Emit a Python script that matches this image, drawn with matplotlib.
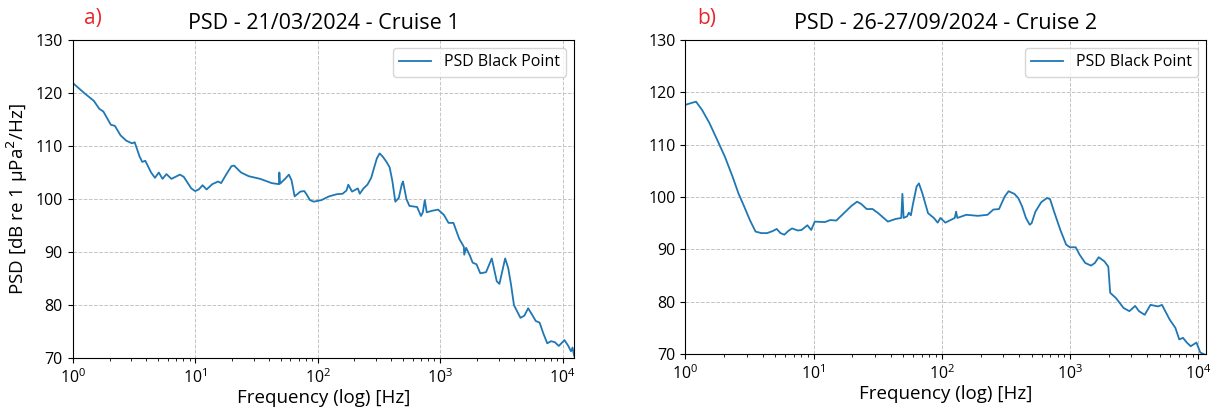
import matplotlib
matplotlib.use('Agg')
import matplotlib.pyplot as plt

plt.rcParams['font.family'] = ['Open Sans', 'DejaVu Sans']

# Cruise 1 - 21/03/2024
freq_1 = [1.0, 1.24, 1.49, 1.65, 1.78, 2.05, 2.21, 2.46, 2.74, 3.05, 3.21, 3.52, 3.70, 3.92,
          4.37, 4.70, 5.05, 5.42, 5.83, 6.40, 7.50, 8.06, 9.30, 10.0, 10.7, 11.5, 12.4, 13.8,
          15.4, 16.3, 17.8, 19.8, 20.8, 23.7, 27.4, 34.0, 42.2, 48.3, 48.7, 49.4, 54.2, 58.3,
          61.3, 64.9, 72.3, 77.8, 80.6, 86.6, 93.0, 107.5, 124, 143, 160, 172, 178, 191, 213,
          221, 237, 255, 274, 290, 305, 321, 340, 365, 387, 407, 431, 460, 487, 498, 531, 562,
          649, 698, 723, 750, 778, 866, 964, 1075, 1172, 1285, 1433, 1563, 1574, 1631, 1753,
          1845, 1982, 2129, 2371, 2642, 2901, 3051, 3398, 3598, 3787, 4010, 4217, 4530, 4870,
          5234, 5703, 6043, 6494, 6980, 7499, 8059, 8660, 9306, 10370, 11140, 11720, 12050, 12410]
psd_1 = [121.9, 120.0, 118.5, 117.0, 116.5, 114.0, 113.8, 112.0, 111.0, 110.5, 110.7, 108.0,
         107.0, 107.2, 105.0, 104.0, 105.0, 103.8, 104.7, 103.8, 104.6, 104.2, 102.0, 101.5,
         101.8, 102.6, 101.8, 102.8, 103.3, 103.0, 104.5, 106.2, 106.3, 105.0, 104.3, 103.8,
         103.0, 102.8, 105.0, 102.9, 103.8, 104.6, 103.5, 100.5, 101.4, 101.5, 101.0, 99.8,
         99.5, 99.8, 100.5, 100.9, 101.0, 101.6, 102.7, 101.4, 102.0, 101.0, 102.0, 102.7,
         104.0, 106.0, 107.7, 108.6, 108.0, 107.0, 106.0, 103.5, 99.5, 100.2, 102.8, 103.3,
         100.0, 98.7, 98.5, 96.8, 97.5, 99.8, 97.5, 97.8, 98.0, 97.0, 95.5, 95.5, 92.5, 91.0,
         89.5, 90.8, 89.3, 88.0, 87.7, 86.0, 86.2, 88.8, 84.5, 84.0, 88.8, 87.0, 84.0, 80.0,
         79.0, 77.6, 78.0, 79.4, 78.0, 77.0, 76.7, 74.6, 72.8, 73.2, 73.0, 72.3, 73.4, 72.3,
         71.3, 72.0, 70.5]

# Cruise 2 - 26-27/09/2024
freq_2 = [1.0, 1.13, 1.21, 1.35, 1.54, 1.77, 2.03, 2.33, 2.59, 2.87, 3.18, 3.52, 3.91, 4.33,
          4.80, 5.15, 5.51, 5.91, 6.33, 6.78, 7.52, 8.05, 8.93, 9.57, 10.2, 12.2, 13.5, 15.0,
          17.2, 19.7, 21.8, 23.4, 25.9, 28.8, 31.9, 37.9, 43.5, 48.2, 49.2, 50.3, 53.5, 55.3,
          57.3, 59.3, 63.5, 66.2, 70.4, 78.0, 86.5, 92.7, 97.3, 106.4, 126, 129, 132, 155, 191,
          227, 252, 279, 309, 331, 367, 394, 422, 452, 484, 501, 536, 595, 659, 697, 757, 839,
          931, 996, 1105, 1184, 1312, 1455, 1559, 1670, 1852, 1984, 2053, 2276, 2612, 2897,
          3213, 3441, 3815, 4230, 4856, 5203, 5970, 6620, 7095, 7590, 8130, 8710, 9660, 10350,
          11480]
psd_2 = [117.6, 118.0, 118.2, 116.6, 114.1, 110.9, 107.7, 103.9, 100.7, 98.2, 95.6, 93.4,
         93.1, 93.1, 93.5, 93.9, 93.1, 92.8, 93.5, 94.0, 93.6, 93.7, 94.6, 93.7, 95.3, 95.2,
         95.6, 95.5, 96.9, 98.3, 99.1, 98.7, 97.7, 97.7, 96.9, 95.3, 95.8, 96.0, 100.6, 96.0,
         96.3, 97.0, 96.5, 98.5, 102.0, 102.6, 100.7, 96.9, 96.0, 95.1, 96.0, 95.1, 96.0, 97.2,
         96.0, 96.6, 96.4, 96.6, 97.6, 97.7, 100.1, 101.1, 100.6, 99.8, 98.2, 96.0, 94.7, 95.0,
         97.2, 99.0, 99.8, 99.6, 96.9, 93.7, 90.9, 90.4, 90.4, 89.0, 87.4, 86.9, 87.4, 88.5,
         87.7, 86.7, 81.7, 80.7, 78.8, 78.2, 79.2, 78.2, 77.5, 79.4, 79.1, 79.4, 76.6, 75.0,
         72.8, 73.1, 72.2, 71.5, 72.2, 70.3, 69.8]

titles = ['PSD - 21/03/2024 - Cruise 1', 'PSD - 26-27/09/2024 - Cruise 2']
letters = ['a)', 'b)']
xmax = [12400, 11500]

fig = plt.figure(figsize=(12.11, 4.07), dpi=100)
ax1 = fig.add_axes([0.060, 0.120, 0.414, 0.782])
ax2 = fig.add_axes([0.566, 0.130, 0.430, 0.772])

for i, (ax, f, p) in enumerate([(ax1, freq_1, psd_1), (ax2, freq_2, psd_2)]):
    ax.semilogx(f, p, color='#1f77b4', lw=1.3, label='PSD Black Point')
    ax.set_xlim(1, xmax[i])
    ax.set_ylim(70, 130)
    ax.set_yticks([70, 80, 90, 100, 110, 120, 130])
    ax.grid(True, which='major', ls='--', color='#c4c4c4', lw=0.7)
    ax.tick_params(labelsize=11.5)
    ax.set_xlabel('Frequency (log) [Hz]', fontsize=13.5, labelpad=2)
    ax.set_title(titles[i], fontsize=15.5, pad=8)
    ax.text(0.04, 1.035, letters[i], transform=ax.transAxes, color='#e8262a',
            fontsize=15, ha='center', va='bottom')
    ax.legend(loc='upper right', fontsize=11.5)

ax1.set_ylabel('PSD [dB re 1 μPa$^2$/Hz]', fontsize=13.5)

plt.savefig('out.png')
